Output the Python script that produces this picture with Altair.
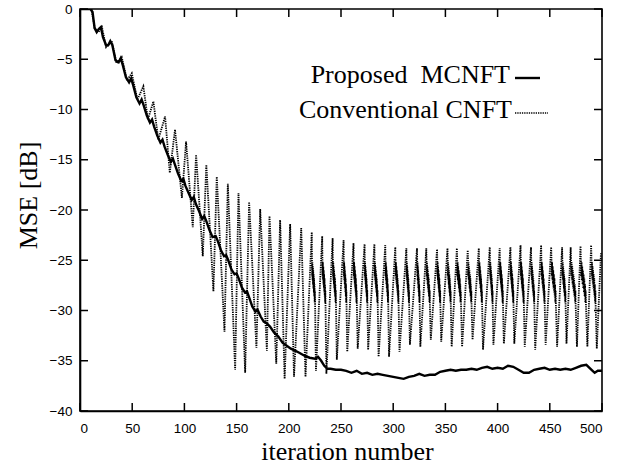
import altair as alt
import pandas as pd

# ---------------- data ----------------
solid_iter = [0, 10, 12, 14, 16, 18, 20, 22, 25, 27, 29, 31, 34, 37, 39, 41, 44, 47, 49, 51, 54, 57, 59, 61,
              64, 67, 69, 71, 74, 77, 79, 81, 84, 87, 89, 91, 94, 97, 99, 101, 104, 107, 109, 111, 114, 117,
              119, 121, 124, 127, 130, 132, 135, 138, 140, 142, 145, 148, 150, 152, 155, 158, 160, 162, 165,
              168, 170, 173, 176, 179, 182, 186, 190, 194, 198, 202, 206, 210, 215, 220, 225, 228, 231, 234,
              237, 240, 245, 250, 255, 260, 265, 270, 275, 280, 285, 290, 295, 300, 305, 310, 315, 320, 325,
              330, 335, 340, 345, 350, 355, 360, 365, 370, 375, 380, 385, 390, 395, 400, 405, 410, 415, 420,
              425, 430, 435, 440, 445, 450, 455, 460, 465, 470, 475, 480, 485, 490, 493, 496, 500]
solid_val = [0, 0, -0.3, -1.9, -2.3, -2.0, -1.8, -2.8, -3.6, -3.6, -3.2, -3.6, -5.1, -5.3, -4.9, -5.6, -6.8,
             -7.3, -6.9, -7.6, -8.8, -9.4, -9.0, -9.6, -10.6, -11.3, -11.0, -11.7, -12.6, -13.3, -13.0, -13.7,
             -14.5, -15.2, -14.9, -15.5, -16.4, -17.1, -16.9, -17.6, -18.3, -19.0, -18.7, -19.4, -20.1, -20.9,
             -20.6, -21.1, -22.0, -22.7, -22.6, -23.1, -24.0, -24.6, -24.5, -25.0, -25.9, -26.4, -26.3, -26.8,
             -27.7, -28.2, -28.1, -28.7, -29.6, -30.1, -29.9, -30.6, -31.1, -31.3, -31.6, -32.2, -32.6, -33.2,
             -33.5, -33.8, -34.0, -34.2, -34.5, -34.7, -34.8, -34.6, -35.0, -35.5, -35.8, -35.8, -35.9, -35.9,
             -36.0, -36.2, -36.0, -36.3, -36.2, -36.4, -36.3, -36.4, -36.5, -36.6, -36.7, -36.8, -36.6, -36.5,
             -36.3, -36.5, -36.4, -36.4, -36.1, -36.0, -35.9, -36.0, -35.9, -35.9, -35.8, -35.9, -35.7, -35.6,
             -35.8, -35.7, -35.8, -35.5, -35.6, -35.9, -36.2, -36.2, -35.9, -35.8, -35.7, -35.9, -35.8, -35.9,
             -35.8, -35.9, -35.7, -35.5, -35.4, -35.9, -36.2, -36.0, -36.0]

dot_start_iter = [0, 11, 14, 17.6]
dot_start_val = [0, 0, -1.9, -2.3]

dot_peak_iter = [21, 30.4, 40, 49.6, 60.7, 70.3, 81.5, 91, 101.6, 111.2, 121, 131, 141.6, 151.8, 162, 172.6,
                 181.5, 191.7, 201.3, 211.9, 222, 232, 242, 252.5, 262, 272.6, 282, 292.4, 302, 312.6, 322.8,
                 331.7, 342, 352, 361, 371.4, 382, 392.5, 402, 412.3, 422, 432, 441.7, 451.3, 461.8, 470,
                 479.4, 489.6, 499]
dot_peak_val = [-1.8, -3.2, -4.8, -6.4, -7.7, -9.2, -10.7, -12.0, -13.2, -14.5, -15.5, -16.7, -17.4, -18.3,
                -19.2, -19.9, -20.6, -21.0, -21.4, -21.8, -22.2, -22.6, -22.8, -23.0, -23.3, -23.4, -23.4,
                -23.5, -23.7, -23.8, -23.8, -23.8, -23.9, -23.8, -23.8, -24.0, -23.8, -23.7, -23.8, -23.7,
                -23.5, -23.7, -23.5, -23.7, -23.7, -23.7, -23.6, -23.5, -24.3]

dot_trough_iter = [25, 35, 45, 55, 65, 75, 86, 97.6, 108, 117.6, 127.8, 138.4, 148.6, 158.2, 169, 179, 188,
                   196, 205, 216, 226, 236, 246, 256, 266, 276, 286, 296, 306, 316, 326, 336, 346, 356, 366,
                   376, 386, 396, 406, 416, 426, 436, 446, 457, 466, 476, 486, 495]
dot_trough_val = [-3.8, -5.4, -7.1, -9.0, -11.0, -13.0, -16.3, -18.8, -21.7, -24.6, -28.1, -32.1, -35.9,
                  -36.2, -33.7, -34.0, -35.3, -36.8, -36.6, -36.6, -36.0, -36.3, -34.9, -34.1, -33.8, -33.9,
                  -34.6, -34.6, -34.1, -33.4, -33.6, -32.9, -33.1, -33.6, -33.6, -32.9, -33.9, -33.4, -33.3,
                  -33.3, -33.6, -33.9, -33.4, -33.6, -33.3, -33.6, -33.6, -33.8]

# hatched ripple band seen after each peak in the settled part
band_vals = [-24.8, -26.6, -25.2, -27.0, -25.6, -27.4, -26.0, -27.8, -26.4, -28.2, -26.8, -28.6, -27.4,
             -29.2, -28.0, -29.6]
band_start = 220

x_ticks = [0, 50, 100, 150, 200, 250, 300, 350, 400, 450, 500]
y_ticks = [-40, -35, -30, -25, -20, -15, -10, -5, 0]

legend_labels = ["Proposed\u00a0\u00a0MCNFT", "Conventional CNFT"]

# ---------------- tables ----------------
solid_df = pd.DataFrame({"it": solid_iter, "mse": solid_val})

pts = list(zip(dot_start_iter, dot_start_val))
pts += list(zip(dot_trough_iter, dot_trough_val))
peaks = list(zip(dot_peak_iter, dot_peak_val))
pts += peaks
troughs_sorted = sorted(dot_trough_iter)
for p_it, _ in peaks:
    if p_it < band_start:
        continue
    nxt = [t for t in troughs_sorted if t > p_it]
    if not nxt:
        continue
    gap = nxt[0] - p_it
    n = len(band_vals)
    for j, v in enumerate(band_vals):
        pts.append((p_it + gap * 0.85 * (j + 1) / (n + 1), v))
pts.sort(key=lambda a: a[0])
dot_df = pd.DataFrame({"it": [p[0] for p in pts], "mse": [p[1] for p in pts]})
dot_df["k"] = range(len(dot_df))

W, H = 522, 402
xs = alt.Scale(domain=[0, 500], nice=False, zero=False)
ys = alt.Scale(domain=[-40, 0], nice=False, zero=False)

x_axis = alt.Axis(values=x_ticks, title="iteration number", tickSize=0, labelPadding=10,
                  labelFont="Liberation Sans", labelFontSize=13.5, labelColor="black",
                  titleFont="Liberation Serif", titleFontSize=26, titleFontWeight="normal",
                  titleColor="black", titleX=267, titleY=48, titleBaseline="alphabetic",
                  titleAlign="center", domainColor="black", domainWidth=1.6, grid=False)
y_axis = alt.Axis(values=y_ticks, title="MSE [dB]", tickSize=0, labelPadding=8,
                  labelFont="Liberation Sans", labelFontSize=13.5, labelColor="black",
                  titleFont="Liberation Serif", titleFontSize=26, titleFontWeight="normal",
                  titleColor="black", titleX=-52, titleY=186, titleAngle=-90,
                  titleAlign="center", titleBaseline="middle",
                  domainColor="black", domainWidth=1.6, grid=False)

dotted = alt.Chart(dot_df).mark_line(color="black", strokeWidth=1.8, strokeDash=[1.3, 1.0],
                                      clip=True).encode(
    x=alt.X("it:Q", scale=xs, axis=x_axis),
    y=alt.Y("mse:Q", scale=ys, axis=y_axis),
    order="k:Q",
)
solid = alt.Chart(solid_df).mark_line(color="black", strokeWidth=2.4, clip=True).encode(
    x=alt.X("it:Q", scale=xs),
    y=alt.Y("mse:Q", scale=ys),
)

xt_df = pd.DataFrame({"t": x_ticks})
yt_df = pd.DataFrame({"t": y_ticks})
tick_bottom = alt.Chart(xt_df).mark_rule(color="black", strokeWidth=1.5).encode(
    x=alt.X("t:Q", scale=xs), y=alt.value(H), y2=alt.value(H - 8))
tick_top = alt.Chart(xt_df).mark_rule(color="black", strokeWidth=1.5).encode(
    x=alt.X("t:Q", scale=xs), y=alt.value(0), y2=alt.value(8))
tick_left = alt.Chart(yt_df).mark_rule(color="black", strokeWidth=1.5).encode(
    y=alt.Y("t:Q", scale=ys), x=alt.value(0), x2=alt.value(8))
tick_right = alt.Chart(yt_df).mark_rule(color="black", strokeWidth=1.5).encode(
    y=alt.Y("t:Q", scale=ys), x=alt.value(W), x2=alt.value(W - 8))

leg_df = pd.DataFrame({"label": legend_labels, "row": [0, 1]})
leg_text1 = alt.Chart(leg_df.iloc[[0]]).mark_text(
    font="Liberation Serif", fontSize=26, align="right", baseline="alphabetic", color="black"
).encode(text="label:N", x=alt.value(430), y=alt.value(74))
leg_text2 = alt.Chart(leg_df.iloc[[1]]).mark_text(
    font="Liberation Serif", fontSize=26, align="right", baseline="alphabetic", color="black"
).encode(text="label:N", x=alt.value(432), y=alt.value(109))
leg_solid = alt.Chart(leg_df.iloc[[0]]).mark_rule(color="black", strokeWidth=2.4).encode(
    x=alt.value(435), x2=alt.value(460), y=alt.value(69))
leg_dot = alt.Chart(leg_df.iloc[[1]]).mark_rule(color="black", strokeWidth=1.6,
                                                  strokeDash=[1.3, 1.0]).encode(
    x=alt.value(435), x2=alt.value(468), y=alt.value(104))

chart = alt.layer(
    dotted, solid, tick_bottom, tick_top, tick_left, tick_right,
    leg_text1, leg_text2, leg_solid, leg_dot
).properties(
    width=W, height=H,
    padding={"left": 80, "top": 9, "right": 26, "bottom": 63},
    autosize=alt.AutoSizeParams(type="none"),
    background="white",
).configure_view(stroke="black", strokeWidth=1.6)

chart.save("out.html", embed_options={"renderer": "svg", "actions": False})
